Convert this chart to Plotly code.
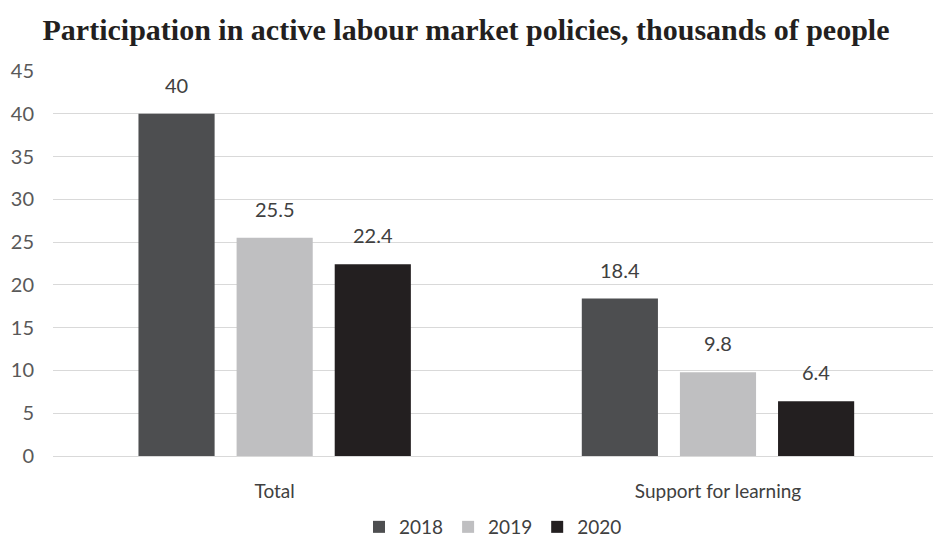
import plotly.graph_objects as go

# Participation in active labour market policies (thousands of people)
categories = ["Total", "Support for learning"]
years = ["2018", "2019", "2020"]
values_2018 = [40, 18.4]
values_2019 = [25.5, 9.8]
values_2020 = [22.4, 6.4]
series = [values_2018, values_2019, values_2020]
colors = ["#4d4e50", "#bfbfc1", "#231f20"]
y_ticks = [0, 5, 10, 15, 20, 25, 30, 35, 40, 45]

BARGAP = 0.336
BARGROUPGAP = 0.224

fig = go.Figure()
for year, vals, col in zip(years, series, colors):
    fig.add_trace(go.Bar(
        name=year, x=categories, y=vals,
        marker=dict(color=col, line=dict(width=0)),
    ))

# value labels above each bar
n = len(years)
slot = (1 - BARGAP) / n
for k, vals in enumerate(series):
    off = (k - (n - 1) / 2) * slot
    for i, v in enumerate(vals):
        fig.add_annotation(
            x=i + off, y=v, xref="x", yref="y",
            text=f"{v:g}", showarrow=False, yanchor="bottom", yshift=15,
            font=dict(family="Lato", size=20, color="#404040"),
        )

fig.update_layout(
    width=933, height=541,
    margin=dict(l=53, r=0, t=71, b=85, autoexpand=False),
    paper_bgcolor="white", plot_bgcolor="white",
    barmode="group", bargap=BARGAP, bargroupgap=BARGROUPGAP,
    showlegend=True,
    legend=dict(orientation="h", x=493 / 933, xanchor="center", xref="container",
                y=(541 - 527) / 541, yanchor="middle", yref="container",
                font=dict(family="Lato", size=19, color="#404040"),
                itemwidth=30, traceorder="normal"),
    title=dict(text="<b>Participation in active labour market policies, thousands of people</b>",
               x=466 / 933, xanchor="center", xref="container", yref="container",
               y=1 - 29 / 541, yanchor="middle",
               font=dict(family="Liberation Serif", size=30, color="#231f20")),
)
fig.update_xaxes(
    type="category", range=[-0.5, 1.485],
    showgrid=False, showline=False, ticks="", ticklabelstandoff=22,
    tickfont=dict(family="Lato", size=19, color="#404040"),
)
fig.update_yaxes(
    range=[0, 45], tickvals=y_ticks,
    showgrid=True, gridcolor="#d9d9d9", gridwidth=1,
    zeroline=True, zerolinecolor="#d9d9d9", zerolinewidth=1,
    showline=False, ticks="", ticklabelstandoff=18,
    tickfont=dict(family="Lato", size=20, color="#595959"),
)

fig.write_html("out.html")
